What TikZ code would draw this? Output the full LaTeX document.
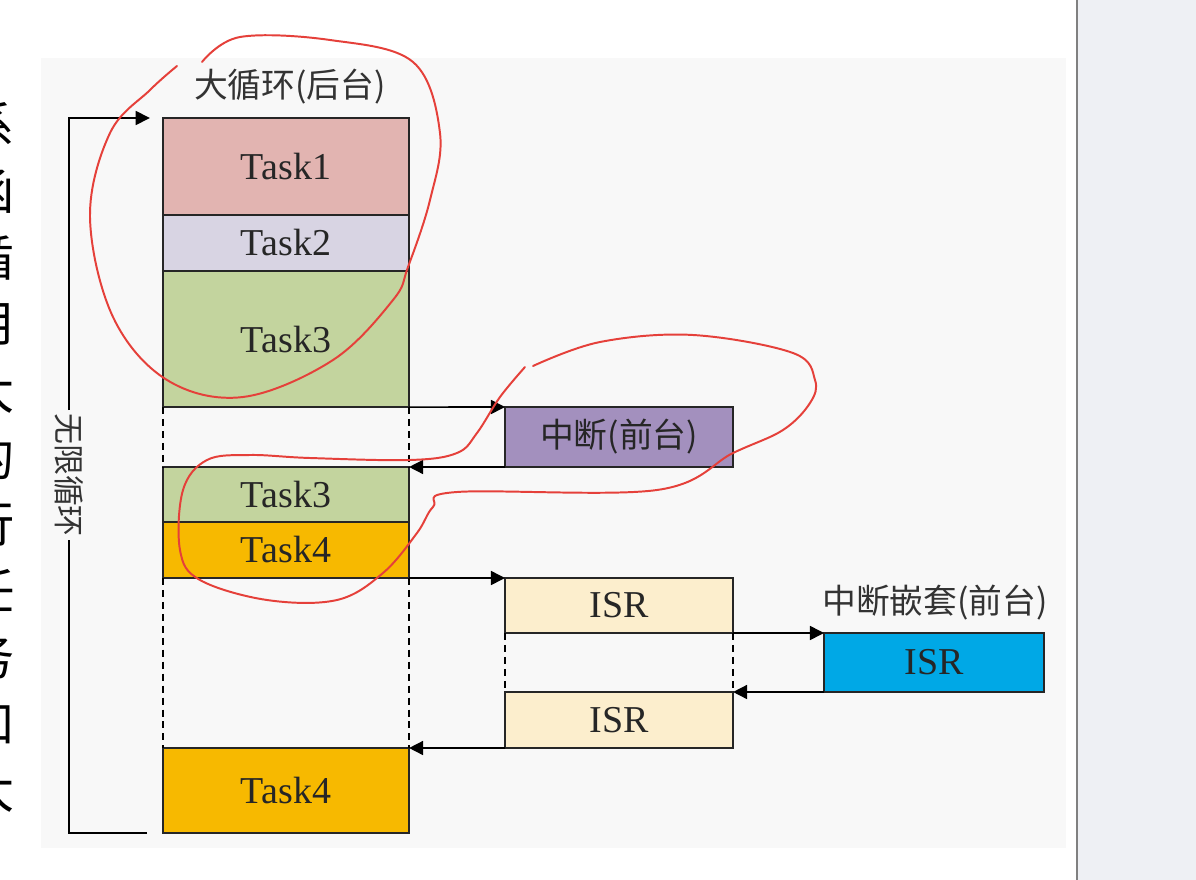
\documentclass[tikz,border=0pt]{standalone}
\usepackage{fontspec}
\setmainfont{Liberation Serif}
\newfontfamily\cjk{Noto Sans CJK SC}
\usetikzlibrary{arrows.meta,positioning}
\definecolor{paper}{HTML}{F8F8F8}
\definecolor{sidepanel}{HTML}{EEF0F4}
\definecolor{taskpink}{HTML}{E2B4B1}
\definecolor{tasklilac}{HTML}{D8D4E3}
\definecolor{taskgreen}{HTML}{C3D49E}
\definecolor{taskgold}{HTML}{F7B900}
\definecolor{irqpurple}{HTML}{A390BE}
\definecolor{isrcream}{HTML}{FCEECD}
\definecolor{isrblue}{HTML}{00A8E6}
\definecolor{penred}{HTML}{E5403A}

\begin{document}
\begin{tikzpicture}[x=0.025cm,y=-0.025cm,
    block/.style={draw=black!85,line width=1.2pt,anchor=north west,inner sep=0pt,outer sep=0pt,
      minimum width=6.15cm,font=\fontsize{27}{32}\selectfont,text=black!85},
    isrblock/.style={block,minimum width=5.7cm},
    flow/.style={line width=1.1pt,-{Triangle[length=10pt,width=10pt]}},
    gap/.style={line width=1.1pt,dash pattern=on 5pt off 3.5pt},
    redpen/.style={draw=penred,line width=1.4pt,line cap=round,line join=round}]
        \useasboundingbox (0,0) rectangle (1196,880);
        % page and side panel
        \fill[white] (0,0) rectangle (1196,880);
        \fill[paper] (41,58) rectangle (1066,848);
        \fill[sidepanel] (1077,0) rectangle (1196,880);
        \draw[black!50, line width=0.8pt] (1077,0) -- (1077,880);
        % cut off text at the left edge
        \begin{scope}
          \clip (0,0) rectangle (41,880);
          \foreach \ch [count=\i] in {系,函,循,用,大,的,行,任,务,和,大}
            \node[font=\cjk\fontsize{35}{35}\selectfont] (edge\i) at (-10,{125+66.5*(\i-1)}) {\ch};
        \end{scope}

        % background loop
        \node[block, fill=taskpink, minimum height=2.425cm] (t1) at (163,118) {Task1};
        \node[block, fill=tasklilac, minimum height=1.4cm] (t2) at (163,215) {Task2};
        \node[block, fill=taskgreen, minimum height=3.4cm] (t3) at (163,271) {Task3};
        \node[block, fill=taskgreen, minimum height=1.375cm] (t3b) at (163,467) {Task3};
        \node[block, fill=taskgold, minimum height=1.4cm] (t4) at (163,522) {Task4};
        \node[block, fill=taskgold, minimum height=2.125cm] (t4b) at (163,748) {Task4};
        \node[font=\cjk\fontsize{24}{28}\selectfont, text=black!80] (bglbl) at (290,87) {大循环(后台)};

        % interrupts
        \node[isrblock, fill=irqpurple, minimum height=1.5cm, font=\cjk\fontsize{24}{28}\selectfont] (irq) at (505,407) {中断(前台)};
        \node[isrblock, fill=isrcream, minimum height=1.375cm] (isr1) at (505,578) {ISR};
        \node[isrblock, fill=isrcream, minimum height=1.4cm] (isr2) at (505,692) {ISR};
        \node[block, fill=isrblue, minimum width=5.5cm, minimum height=1.475cm] (nest) at (824,633) {ISR};
        \node[font=\cjk\fontsize{24}{28}\selectfont, text=black!80] (nestlbl) at (935,603) {中断嵌套(前台)};

        % endless loop
        \node[rotate=-90, inner sep=2pt, font=\cjk\fontsize{22}{26}\selectfont, text=black!80] (looplbl) at (69,475) {无限循环};
        \coordinate (loopend) at (147,833);
        \draw[line width=1.1pt] (loopend) -| (looplbl.east);
        \draw[flow, shorten >=0.33cm] (looplbl.west) |- (t1.north west);

        % jumps
        \draw[flow] (t3.south east) -- (irq.north west);
        \draw[flow] (irq.south west) -- (t3b.north east);
        \draw[flow] (t4.south east) -- (isr1.north west);
        \draw[flow] (isr1.south east) -- (nest.north west);
        \draw[flow] (nest.south west) -- (isr2.north east);
        \draw[flow] (isr2.south west) -- (t4b.north east);
        \draw[gap] (t3.south west) -- (t3b.north west);
        \draw[gap] (t3.south east) -- (t3b.north east);
        \draw[gap] (t4.south west) -- (t4b.north west);
        \draw[gap] (t4.south east) -- (t4b.north east);
        \draw[gap] (isr1.south west) -- (isr2.north west);
        \draw[gap] (isr1.south east) -- (isr2.north east);

        % red pen marks
        \draw[redpen] plot[smooth, tension=0.6] coordinates {(202,62) (240,37) (330,40) (413,62) (440,133)
          (430,200) (408,267) (393,300) (333,360) (243,397) (167,380) (113,317) (90,217) (110,133) (150,90) (177,66)};
        \draw[redpen] plot[smooth, tension=0.6] coordinates {(533,366) (600,342) (693,335) (793,353) (815,380)
          (810,403) (783,430) (733,453) (657,490) (457,492) (433,507) (417,533) (383,573) (337,600) (267,600)
          (200,580) (180,550) (183,490) (207,460) (250,455) (310,458) (410,460) (457,453) (477,433) (500,397) (525,367)};
\end{tikzpicture}
\end{document}
